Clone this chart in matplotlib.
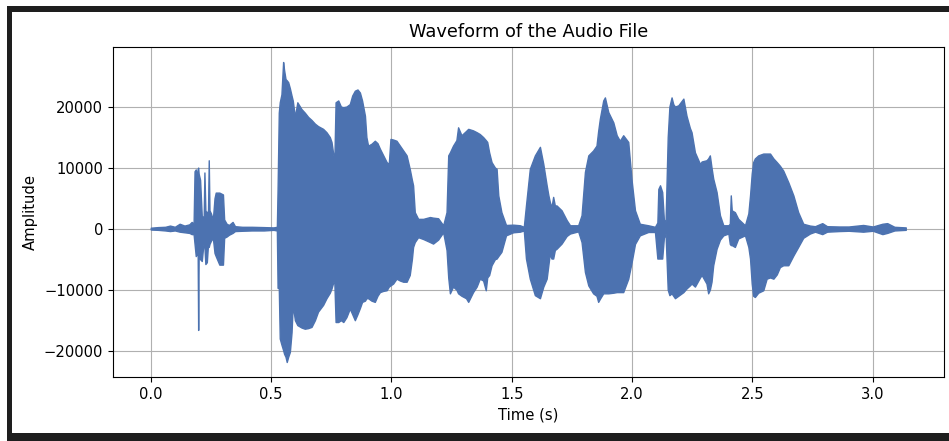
import matplotlib
matplotlib.use("Agg")
import matplotlib.pyplot as plt
from matplotlib.patches import Rectangle

# Envelope of the waveform: time (s), upper and lower amplitude
time_s = [
    0.000, 0.030, 0.060, 0.080, 0.100, 0.120, 0.140, 0.160, 0.170, 0.178,
    0.182, 0.187, 0.192, 0.195, 0.197, 0.199, 0.205, 0.212, 0.220, 0.223,
    0.227, 0.233, 0.238, 0.241, 0.244, 0.250, 0.258, 0.265, 0.270, 0.285,
    0.300, 0.305, 0.315, 0.325, 0.340, 0.350, 0.380, 0.420, 0.470, 0.510,
    0.524, 0.527, 0.532, 0.536, 0.543, 0.550, 0.554, 0.560, 0.565, 0.571,
    0.578, 0.585, 0.590, 0.599, 0.609, 0.626, 0.640, 0.654, 0.668, 0.682,
    0.695, 0.716, 0.730, 0.744, 0.751, 0.759, 0.763, 0.768, 0.779, 0.790,
    0.800, 0.813, 0.827, 0.837, 0.848, 0.859, 0.869, 0.878, 0.890, 0.896,
    0.903, 0.917, 0.931, 0.942, 0.952, 0.966, 0.980, 0.989, 0.996, 1.007,
    1.021, 1.035, 1.049, 1.063, 1.076, 1.085, 1.090, 1.097, 1.111, 1.132,
    1.160, 1.173, 1.194, 1.215, 1.229, 1.236, 1.243, 1.256, 1.270, 1.277,
    1.291, 1.310, 1.319, 1.339, 1.354, 1.367, 1.381, 1.392, 1.398, 1.406,
    1.416, 1.430, 1.437, 1.444, 1.457, 1.476, 1.506, 1.534, 1.550, 1.559,
    1.575, 1.596, 1.617, 1.631, 1.645, 1.652, 1.658, 1.665, 1.672, 1.679,
    1.686, 1.707, 1.728, 1.742, 1.776, 1.790, 1.804, 1.818, 1.838, 1.852,
    1.859, 1.866, 1.880, 1.887, 1.901, 1.922, 1.936, 1.949, 1.963, 1.984,
    1.998, 2.012, 2.032, 2.067, 2.095, 2.105, 2.109, 2.116, 2.125, 2.132,
    2.139, 2.148, 2.155, 2.164, 2.171, 2.178, 2.192, 2.213, 2.226, 2.240,
    2.247, 2.261, 2.282, 2.289, 2.309, 2.316, 2.323, 2.330, 2.337, 2.351,
    2.365, 2.379, 2.400, 2.406, 2.410, 2.414, 2.427, 2.441, 2.469, 2.483,
    2.490, 2.497, 2.503, 2.510, 2.524, 2.545, 2.559, 2.573, 2.587, 2.601,
    2.614, 2.628, 2.649, 2.670, 2.690, 2.711, 2.739, 2.760, 2.790, 2.810,
    2.860, 2.900, 2.960, 3.000, 3.040, 3.060, 3.090, 3.137,
]
amp_upper = [
    150, 250, 300, 500, 300, 800, 500, 700, 1100, 800,
    9400, 9700, 8500, 9800, 10000, 9000, 8000, 2000, 2000, 9200,
    3000, 2500, 3000, 11200, 3000, 2500, 1500, 5000, 5900, 5900,
    5600, 1500, 800, 600, 1100, 400, 300, 300, 250, 200,
    300, 6500, 19000, 20700, 22000, 27300, 26000, 24500, 24300, 24000,
    23000, 21800, 21000, 18300, 20700, 19600, 19000, 18300, 17800, 17200,
    16800, 16350, 15800, 15000, 14200, 12000, 11400, 20700, 21000, 20000,
    19900, 20000, 20400, 21800, 22600, 22800, 22300, 21000, 18500, 15000,
    13600, 13900, 14400, 14000, 13100, 12000, 10900, 10600, 14700, 14600,
    14400, 13600, 12800, 12000, 9800, 8000, 7100, 2700, 1600, 1600,
    1900, 1800, 1700, 550, 2700, 12000, 12500, 13600, 14500, 16600,
    15300, 16000, 16350, 16100, 15800, 15500, 15000, 14500, 14200, 12500,
    10900, 10000, 9800, 5450, 2700, 600, 650, 550, 300, 3800,
    9800, 12000, 13400, 10600, 7100, 5500, 4400, 3500, 5200, 3800,
    3800, 3000, 1400, 550, 550, 2200, 9300, 12000, 12800, 13600,
    16000, 18000, 21000, 21500, 19100, 17400, 15300, 14400, 15300, 14200,
    7900, 3000, 800, 550, 300, 1000, 6500, 7100, 6000, 1500,
    1100, 15000, 20000, 21500, 20400, 20000, 20200, 21300, 18500, 16500,
    15800, 12500, 10600, 11000, 11200, 11500, 12000, 10000, 8200, 6000,
    2200, 550, 550, 800, 5450, 3000, 2700, 1600, 550, 2500,
    5450, 9000, 10900, 11500, 12000, 12300, 12300, 12300, 11500, 10900,
    10300, 9500, 7600, 5450, 2700, 800, 500, 400, 900, 400,
    350, 350, 600, 350, 800, 900, 300, 200,
]
amp_lower = [
    -150, -200, -300, -400, -300, -500, -600, -700, -900, -900,
    -2500, -4500, -4000, -4500, -16600, -4500, -5000, -5300, -2000, -3000,
    -5800, -5500, -2500, -3000, -2500, -2000, -1500, -4000, -4500, -5900,
    -5900, -1500, -1300, -1000, -700, -400, -350, -300, -300, -200,
    -300, -9700, -9700, -18000, -19000, -19900, -20500, -21000, -21850, -21000,
    -20200, -17000, -12500, -15000, -15800, -16200, -16400, -16300, -16100, -15000,
    -13600, -12500, -11400, -10500, -9800, -8700, -9000, -15300, -15300, -15000,
    -15300, -14500, -13100, -14000, -15000, -14000, -13000, -12000, -11800, -11400,
    -11400, -11800, -12000, -11000, -10400, -10200, -10100, -9500, -9300, -9000,
    -8200, -8500, -8700, -8700, -7600, -5000, -3000, -2200, -1400, -1700,
    -2200, -2450, -1800, -600, -3500, -8000, -10600, -9500, -10000, -10600,
    -11000, -11400, -12000, -10400, -9500, -8200, -8500, -10100, -8000, -7600,
    -6000, -5000, -4900, -4500, -3800, -1100, -600, -500, -300, -4900,
    -8200, -10900, -11400, -9500, -8200, -6000, -4100, -4900, -4900, -3500,
    -3300, -2450, -1200, -800, -450, -2200, -7100, -9300, -10600, -11000,
    -12000, -11500, -10600, -10600, -10600, -10500, -10400, -10400, -10400, -8200,
    -5500, -2500, -1100, -550, -550, -4900, -4900, -4900, -4900, -1500,
    -800, -10000, -10900, -10600, -11000, -11400, -11000, -10400, -9800, -9300,
    -9000, -9500, -8000, -7600, -9000, -10600, -10000, -8700, -6000, -3300,
    -1800, -1100, -800, -2500, -2700, -2700, -3000, -1600, -1100, -3000,
    -4900, -9000, -11000, -11200, -10500, -10100, -8200, -8000, -8200, -7500,
    -6300, -6000, -6000, -4400, -3000, -1500, -800, -500, -900, -500,
    -400, -350, -500, -350, -900, -700, -300, -200,
]

title_text = "Waveform of the Audio File"
x_label = "Time (s)"
y_label = "Amplitude"
wave_color = "#4C72B0"

W, H = 949, 441
fig = plt.figure(figsize=(W / 100, H / 100), dpi=100, facecolor="white")

# dark screenshot frame (top, left, bottom)
frame = "#1e1e1e"
fig.patches.append(Rectangle((7 / W, 1 - 12 / H), 1 - 7 / W, 6 / H, transform=fig.transFigure,
                             facecolor=frame, edgecolor="none", zorder=0))
fig.patches.append(Rectangle((7 / W, 0), 5 / W, 1 - 6 / H, transform=fig.transFigure,
                             facecolor=frame, edgecolor="none", zorder=0))
fig.patches.append(Rectangle((7 / W, 0), 1 - 7 / W, 8 / H, transform=fig.transFigure,
                             facecolor=frame, edgecolor="none", zorder=0))

ax = fig.add_axes([113 / W, (H - 377) / H, 830.5 / W, 330 / H])
ax.fill_between(time_s, amp_lower, amp_upper, color=wave_color, linewidth=1.0,
                edgecolor=wave_color)
ax.margins(0.05)
ax.grid(True)
ax.set_axisbelow(True)
ax.tick_params(labelsize=10.6)
ax.set_title(title_text, fontsize=12.8, pad=7.5)
ax.set_xlabel(x_label, fontsize=10.6)
ax.set_ylabel(y_label, fontsize=10.6)

fig.savefig("out.png", dpi=100, facecolor="white")
